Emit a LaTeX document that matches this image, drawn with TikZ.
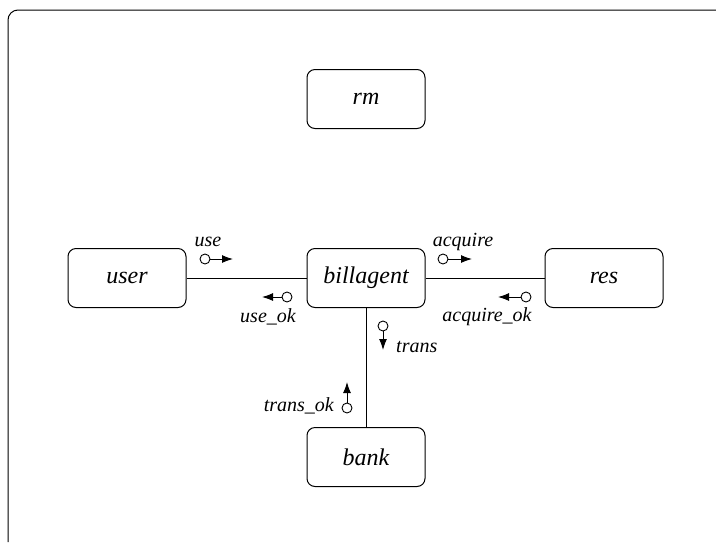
\documentclass[tikz,border=0pt]{standalone}
\usepackage{fontspec}
\setmainfont{Liberation Serif}
\usetikzlibrary{arrows.meta}
\tikzset{
  proc/.style={draw, line width=1pt, rounded corners=8pt, minimum width=118pt, minimum height=59pt, inner sep=0pt, font=\fontsize{24}{28}\selectfont\itshape},
  lbl/.style={inner sep=0pt, font=\fontsize{20}{24}\selectfont\itshape},
  conn/.style={line width=0.9pt},
  port/.style={line width=0.9pt},
  flow/.style={line width=1pt, -{Latex[length=11pt,width=8pt]}}
}
\begin{document}
\begin{tikzpicture}[x=1pt,y=-1pt]
\useasboundingbox (0,0) rectangle (716,542);
\draw[line width=1pt, rounded corners=10pt] (8,542) -- (8,10) -- (716,10);
\node[proc] (rm) at (366,99) {rm};
\node[proc] (user) at (127,278) {user};
\node[proc] (billagent) at (366,278) {billagent};
\node[proc] (res) at (604,278) {res};
\node[proc] (bank) at (366,457) {bank};
\draw[conn] (user) -- (billagent);
\draw[conn] (billagent) -- (res);
\draw[conn] (billagent) -- (bank);
% ports
\coordinate (pu) at (205,259);
\coordinate (puo) at (287,297);
\coordinate (pa) at (443,259);
\coordinate (pao) at (526,297);
\coordinate (pt) at (383,326);
\coordinate (pto) at (347,408);
\draw[port] (pu) circle (5);
\draw[flow] ([xshift=5pt]pu) -- ++(23,0);
\draw[port] (puo) circle (5);
\draw[flow] ([xshift=-5pt]puo) -- ++(-20,0);
\draw[port] (pa) circle (5);
\draw[flow] ([xshift=5pt]pa) -- ++(24,0);
\draw[port] (pao) circle (5);
\draw[flow] ([xshift=-5pt]pao) -- ++(-23,0);
\draw[port] (pt) circle (5);
\draw[flow] ([yshift=-5pt]pt) -- ++(0,19);
\draw[port] (pto) circle (5);
\draw[flow] ([yshift=5pt]pto) -- ++(0,-21);
% labels
\node[lbl] (luse) at (208,242) {use};
\node[lbl] (luseok) at (268,317) {use\_ok};
\node[lbl] (lacq) at (463,242) {acquire};
\node[lbl] (lacqok) at (487,317) {acquire\_ok};
\node[lbl, anchor=west] (ltrans) at (396,347) {trans};
\node[lbl, anchor=east] (ltransok) at (334,406) {trans\_ok};
\end{tikzpicture}
\end{document}
